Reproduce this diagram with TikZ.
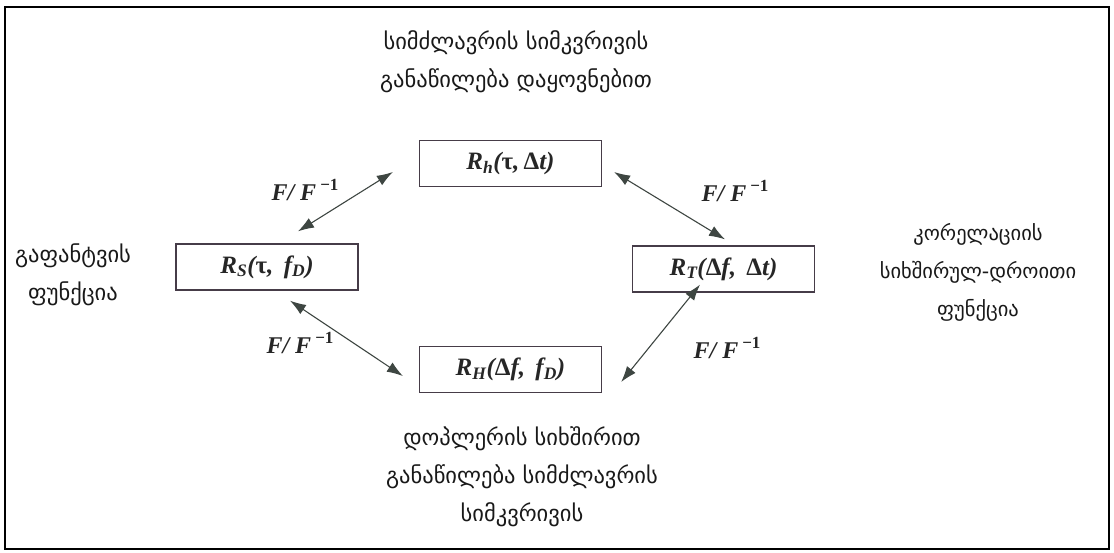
\documentclass[tikz,border=0pt]{standalone}
\usepackage{fontspec}
\newfontfamily\geo{DejaVu Sans}
\newfontfamily\tms{Liberation Serif}
\usetikzlibrary{arrows.meta}
\definecolor{arrgray}{RGB}{62,70,66}
\definecolor{boxline}{RGB}{70,60,72}
\newcommand{\finv}{{\itshape F/ F}\,\raisebox{0.42em}{\fontsize{17}{17}\selectfont −1}}
\tikzset{
  box/.style={draw=boxline, line width=1.3pt, minimum width=182pt, minimum height=46pt, inner sep=0pt, font=\tms\bfseries\itshape\fontsize{25}{28}\selectfont, text=black!85},
  dblarr/.style={arrgray, line width=1.1pt, {Latex[length=16pt,width=11pt]}-{Latex[length=16pt,width=11pt]}},
  flbl/.style={font=\tms\bfseries\fontsize{24}{26}\selectfont, text=black!85},
  geotxt/.style={align=center, font=\geo\fontsize{22.5}{38}\selectfont, text=black!90}
}

\begin{document}
\begin{tikzpicture}[x=1pt, y=-1pt]
  \useasboundingbox (0,0) rectangle (1114,552);
  % frame
  \draw[line width=1.6pt] (5,7) rectangle (1109,549);

  % four boxes
  \node (rh) at (510.5,163.5) [box] {R\textsubscript{h}({\upshape τ},\,{\upshape Δ}t)};
  \node (rs) at (267,267) [box] {R\textsubscript{S}({\upshape τ},\, f\textsubscript{D})};
  \node (rt) at (723.5,269) [box] {R\textsubscript{T}({\upshape Δ}f,\, {\upshape Δ}t)};
  \node (rH) at (510.5,369.5) [box] {R\textsubscript{H}({\upshape Δ}f,\, f\textsubscript{D})};

  % arrows between them
  \draw[dblarr] ([xshift=31pt,yshift=12pt]rs.north) -- ([xshift=-26pt,yshift=-8.5pt]rh.west);
  \draw[dblarr] ([xshift=12pt,yshift=-8.5pt]rh.east) -- ([xshift=1.5pt,yshift=6pt]rt.north);
  \draw[dblarr] ([xshift=23pt,yshift=-10pt]rs.south) -- ([xshift=-16pt,yshift=-6.5pt]rH.west);
  \draw[dblarr] ([xshift=19pt,yshift=-12.5pt]rH.east) -- ([xshift=-23.5pt,yshift=8pt]rt.south);

  % F/F^-1 labels
  \node (f1) at (305,190) [flbl] {\finv};
  \node (f2) at (735,191) [flbl] {\finv};
  \node (f3) at (300,343) [flbl] {\finv};
  \node (f4) at (727,348) [flbl] {\finv};

  % texts
  \node (ttop) at (516,62) [geotxt] {სიმძლავრის სიმკვრივის\\განაწილება დაყოვნებით};
  \node (tleft) at (73,275) [geotxt] {გაფანტვის\\ფუნქცია};
  \node (tright) at (978,272) [geotxt, font=\geo\fontsize{20.5}{38}\selectfont] {კორელაციის\\სიხშირულ-დროითი\\ფუნქცია};
  \node (tbot) at (522,477) [geotxt] {დოპლერის სიხშირით\\განაწილება სიმძლავრის\\სიმკვრივის};
\end{tikzpicture}
\end{document}
